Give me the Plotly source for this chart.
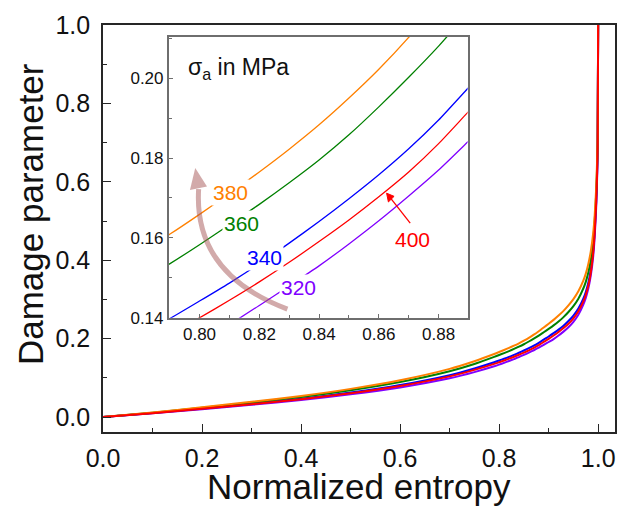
import plotly.graph_objects as go

# ---------------- data ----------------
entropy = [0, 0.1, 0.2, 0.3, 0.4, 0.5, 0.6, 0.7, 0.75,
           0.79, 0.80, 0.81, 0.82, 0.83, 0.84, 0.85, 0.86, 0.87, 0.88, 0.89,
           0.90, 0.91, 0.92, 0.93, 0.94, 0.95, 0.96, 0.97, 0.975, 0.98,
           0.985, 0.99, 0.993, 0.996, 0.998, 0.999, 1.0]

d_320 = [0, 0.0097, 0.0201, 0.0314, 0.0435, 0.0580, 0.0757, 0.0990, 0.1147,
         0.1295, 0.1338, 0.1383, 0.1431, 0.1480, 0.1530, 0.1585, 0.1643, 0.1705, 0.1770, 0.1842,
         0.1915, 0.199, 0.208, 0.218, 0.229, 0.243, 0.261, 0.287, 0.304, 0.327,
         0.36, 0.41, 0.46, 0.535, 0.615, 0.69, 1.0]
d_340 = [0, 0.0104, 0.0218, 0.0339, 0.0470, 0.0626, 0.0818, 0.1070, 0.1240,
         0.1398, 0.1442, 0.1487, 0.1535, 0.1587, 0.1641, 0.1698, 0.1758, 0.1823, 0.1895, 0.1976,
         0.2055, 0.214, 0.223, 0.233, 0.245, 0.259, 0.277, 0.302, 0.319, 0.342,
         0.375, 0.428, 0.478, 0.55, 0.63, 0.70, 1.0]
d_360 = [0, 0.0114, 0.0238, 0.0371, 0.0513, 0.0684, 0.0893, 0.1169, 0.1354,
         0.1535, 0.1583, 0.1633, 0.1684, 0.1738, 0.1795, 0.1858, 0.1928, 0.2002, 0.2080, 0.2165,
         0.225, 0.234, 0.244, 0.255, 0.268, 0.283, 0.302, 0.328, 0.345, 0.368,
         0.40, 0.452, 0.50, 0.57, 0.645, 0.71, 1.0]
d_380 = [0, 0.012, 0.025, 0.039, 0.054, 0.072, 0.094, 0.123, 0.1425,
         0.1609, 0.1659, 0.1711, 0.1765, 0.1822, 0.1883, 0.1950, 0.2022, 0.2102, 0.2190, 0.2285,
         0.238, 0.248, 0.259, 0.271, 0.285, 0.301, 0.321, 0.348, 0.366, 0.39,
         0.422, 0.47, 0.515, 0.585, 0.66, 0.72, 1.0]
d_400 = [0, 0.0101, 0.0211, 0.0330, 0.0456, 0.0608, 0.0794, 0.1039, 0.1204,
         0.1357, 0.1400, 0.1444, 0.1490, 0.1539, 0.1591, 0.1645, 0.1703, 0.1765, 0.1836, 0.1916,
         0.1995, 0.208, 0.217, 0.227, 0.238, 0.252, 0.270, 0.295, 0.312, 0.335,
         0.368, 0.42, 0.47, 0.545, 0.625, 0.695, 1.0]

stress_labels = ["320", "340", "360", "380", "400"]
series = [d_320, d_340, d_360, d_380, d_400]
colors = ["#8000FF", "#0000FF", "#008000", "#FF8000", "#FF0000"]

# inset label positions (inset data coords)
label_pos = {"380": (0.8103, 0.1713), "360": (0.8139, 0.1635),
             "340": (0.8217, 0.1552), "320": (0.8332, 0.1477)}
label_400 = (0.8714, 0.1597)
arrow_400_head = (0.8626, 0.1712)
arrow_400_tail = (0.8705, 0.1637)

FONT = "Liberation Sans, Arial, sans-serif"

fig = go.Figure()

for lab, ys, c in zip(stress_labels, series, colors):
    fig.add_trace(go.Scatter(x=entropy, y=ys, mode="lines",
                             line=dict(color=c, width=2, shape="spline", smoothing=0.6),
                             xaxis="x", yaxis="y", showlegend=False, name=lab))
for lab, ys, c in zip(stress_labels, series, colors):
    fig.add_trace(go.Scatter(x=entropy, y=ys, mode="lines",
                             line=dict(color=c, width=1.3, shape="spline", smoothing=0.6),
                             xaxis="x2", yaxis="y2", showlegend=False, name=lab))

main_axis = dict(showline=True, linecolor="#262626", linewidth=1.6, mirror=True,
                 ticks="inside", ticklen=8, tickwidth=1.4, tickcolor="#262626",
                 showgrid=False, zeroline=False,
                 tickfont=dict(family=FONT, size=25, color="#111"))
fig.update_layout(
    width=628, height=512,
    margin=dict(l=103, r=11, t=22, b=80),
    paper_bgcolor="white", plot_bgcolor="white",
    xaxis=dict(main_axis, range=[0, 1.034], dtick=0.2, tick0=0, tickformat=".1f",
               ticklabelstandoff=3,
               minor=dict(ticks="inside", ticklen=4, dtick=0.1, tickcolor="#262626", tickwidth=1.4)),
    yaxis=dict(main_axis, range=[-0.038, 1.0], dtick=0.2, tick0=0, tickformat=".1f",
               ticklabelstandoff=6,
               minor=dict(ticks="inside", ticklen=4, dtick=0.1, tickcolor="#262626", tickwidth=1.4)),
)

inset_axis = dict(showline=True, linecolor="#6e6e6e", linewidth=1.6, mirror=True,
                  ticks="inside", ticklen=4, tickwidth=1, tickcolor="#6e6e6e",
                  showgrid=False, zeroline=False,
                  tickfont=dict(family=FONT, size=17, color="#111"))
fig.update_layout(
    xaxis2=dict(inset_axis, domain=[0.1284, 0.7121], anchor="y2", range=[0.7897, 0.8897],
                dtick=0.02, tick0=0.8, tickformat=".2f",
                minor=dict(ticks="inside", ticklen=3, dtick=0.01, tickcolor="#6e6e6e")),
    yaxis2=dict(inset_axis, domain=[0.2805, 0.9707], anchor="x2", range=[0.14, 0.2103],
                dtick=0.02, tick0=0.14, tickformat=".2f",
                minor=dict(ticks="inside", ticklen=3, dtick=0.01, tickcolor="#6e6e6e")),
)

ann = []
# axis titles
ann.append(dict(text="Normalized entropy", xref="paper", yref="paper", x=0.5, y=-0.134,
                xanchor="center", yanchor="middle", showarrow=False,
                font=dict(family=FONT, size=35, color="#111")))
ann.append(dict(text="Damage parameter", xref="paper", yref="paper", x=-0.143, y=0.535,
                xanchor="center", yanchor="middle", textangle=-90, showarrow=False,
                font=dict(family=FONT, size=35, color="#111")))
# inset title
ann.append(dict(text="σ<sub>a</sub> in MPa", xref="x2", yref="y2", x=0.7956, y=0.2023,
                xanchor="left", yanchor="middle", showarrow=False,
                font=dict(family=FONT, size=23, color="#111")))
# stress labels
for lab, c in zip(stress_labels, colors):
    if lab in label_pos:
        lx, ly = label_pos[lab]
        ann.append(dict(text=lab, xref="x2", yref="y2", x=lx, y=ly, showarrow=False,
                        bgcolor="white", borderpad=1,
                        font=dict(family=FONT, size=21, color=c)))
ann.append(dict(text="400", xref="x2", yref="y2", x=label_400[0], y=label_400[1],
                showarrow=False, font=dict(family=FONT, size=21, color="#FF0000")))
fig.update_layout(annotations=ann)

# red pointer for the 400 MPa curve
fig.add_shape(type="line", xref="x2", yref="y2",
              x0=arrow_400_tail[0], y0=arrow_400_tail[1],
              x1=arrow_400_head[0] + 0.0012, y1=arrow_400_head[1] - 0.0011,
              line=dict(color="#FF0000", width=1.3), layer="above")
fig.add_shape(type="path", xref="x2", yref="y2",
              path=(f"M {arrow_400_head[0]},{arrow_400_head[1]} "
                    f"L {arrow_400_head[0] + 0.0006},{arrow_400_head[1] - 0.0022} "
                    f"L {arrow_400_head[0] + 0.0025},{arrow_400_head[1] - 0.0008} Z"),
              line=dict(color="#FF0000", width=1), fillcolor="#FF0000", layer="above")

# big curved arrow (increasing stress direction)
arrow_col = "rgba(165, 85, 85, 0.5)"
tail = (0.8294, 0.1422)
ctrl = (0.7980, 0.1510)
base = (0.7997, 0.1722)
tip = (0.79857, 0.17750)
left = (0.79680, 0.17200)
right = (0.80250, 0.17285)
fig.add_shape(type="path", xref="x2", yref="y2",
              path=f"M {tail[0]},{tail[1]} Q {ctrl[0]},{ctrl[1]} {base[0]},{base[1]}",
              line=dict(color=arrow_col, width=5), layer="above")
fig.add_shape(type="path", xref="x2", yref="y2",
              path=f"M {tip[0]},{tip[1]} L {left[0]},{left[1]} L {right[0]},{right[1]} Z",
              line=dict(color="rgba(0,0,0,0)", width=0), fillcolor=arrow_col, layer="above")

fig.write_html("out.html")
